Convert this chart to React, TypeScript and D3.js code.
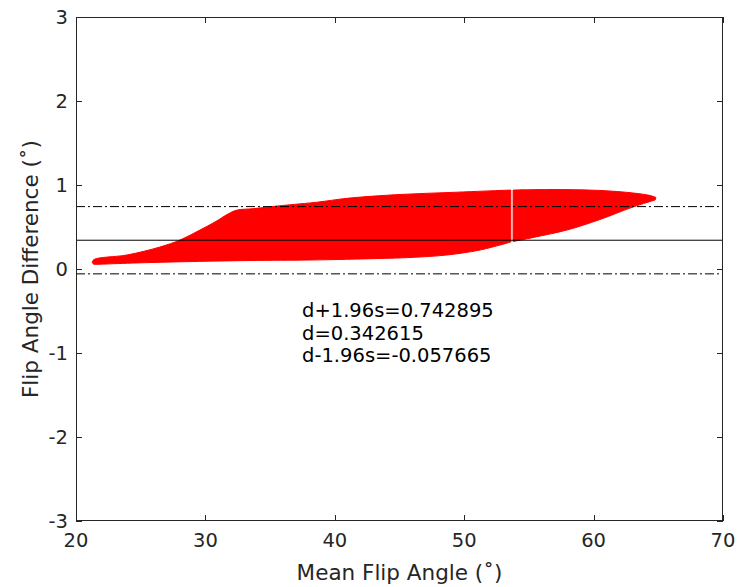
import React from 'react';
import * as d3 from 'd3';

// outline of the red point cloud (mean, difference)
// it is split in two pieces because of the thin gap near 53.7
const leftUpper: [number, number][] = [
  [21.24, 0.077], [21.39, 0.113], [23.94, 0.167], [26.49, 0.262], [28.04, 0.345],
  [29.58, 0.464], [30.74, 0.56], [31.75, 0.655], [32.4, 0.7], [33.68, 0.718],
  [35.22, 0.744], [36.77, 0.768], [38.62, 0.795], [41.17, 0.845], [45.04, 0.887],
  [48.9, 0.911], [52.77, 0.935], [53.6, 0.94],
];
const leftLower: [number, number][] = [
  [53.6, 0.321], [51.22, 0.226], [48.67, 0.167], [45.81, 0.137], [43.49, 0.125],
  [38.08, 0.107], [33.45, 0.101], [25.72, 0.077], [21.39, 0.054],
];
const rightUpper: [number, number][] = [
  [53.78, 0.94], [56.63, 0.946], [60.49, 0.935], [63.04, 0.905], [64.36, 0.875],
  [64.82, 0.851],
];
const rightLower: [number, number][] = [
  [64.75, 0.821], [63.04, 0.738], [60.49, 0.589], [57.94, 0.464], [55.32, 0.375],
  [53.78, 0.327],
];

const dUpper = 0.742895;
const dMean = 0.342615;
const dLower = -0.057665;
const annotation = [
  'd+1.96s=0.742895',
  'd=0.342615',
  'd-1.96s=-0.057665',
];

const xTicks = [20, 30, 40, 50, 60, 70];
const yTicks = [-3, -2, -1, 0, 1, 2, 3];

const W = 738;
const H = 587;
const left = 76, right = 723, top = 17, bottom = 521;

export default function App() {
  const x = d3.scaleLinear().domain([20, 70]).range([left, right]);
  const y = d3.scaleLinear().domain([-3, 3]).range([bottom, top]);
  const edge = d3.line<[number, number]>()
    .x(d => x(d[0])).y(d => y(d[1]))
    .curve(d3.curveCatmullRom.alpha(0.5));
  // smooth top and bottom edges, joined with straight segments
  const shape = (up: [number, number][], lo: [number, number][]) =>
    edge(up) + (edge(lo) || '').replace(/^M/, 'L') + 'Z';
  const axisColor = '#262626';
  const font = 'DejaVu Sans, sans-serif';

  return (
    <svg width={W} height={H} style={{ position: 'absolute', left: 0, top: 0 }} fontFamily={font}>
      <rect width={W} height={H} fill="#fff" />

      <g fill="#ff0000" stroke="#ff0000" strokeWidth={1} strokeLinejoin="round">
        <path d={shape(leftUpper, leftLower)} />
        <path d={shape(rightUpper, rightLower)} />
      </g>

      <line x1={left} x2={right} y1={y(dMean)} y2={y(dMean)} stroke="#000" strokeWidth={1} />
      {[dUpper, dLower].map(v => (
        <line key={v} x1={left} x2={right} y1={y(v)} y2={y(v)} stroke="#000"
          strokeWidth={1} strokeDasharray="9,3,2,3" />
      ))}

      {annotation.map((t, i) => (
        <text key={t} x={x(37.47)} y={317 + i * 22.5} fontSize={19.5} fill="#000">{t}</text>
      ))}

      {/* box and ticks */}
      <rect x={left + 0.5} y={top + 0.5} width={right - left - 1} height={bottom - top - 1}
        fill="none" stroke={axisColor} strokeWidth={1} />
      {xTicks.map(t => (
        <g key={'x' + t} stroke={axisColor}>
          <line x1={Math.round(x(t)) + 0.5} x2={Math.round(x(t)) + 0.5} y1={bottom} y2={bottom - 6} />
          <line x1={Math.round(x(t)) + 0.5} x2={Math.round(x(t)) + 0.5} y1={top} y2={top + 6} />
        </g>
      ))}
      {yTicks.map(t => (
        <g key={'y' + t} stroke={axisColor}>
          <line x1={left} x2={left + 6} y1={Math.round(y(t)) + 0.5} y2={Math.round(y(t)) + 0.5} />
          <line x1={right} x2={right - 6} y1={Math.round(y(t)) + 0.5} y2={Math.round(y(t)) + 0.5} />
        </g>
      ))}
      {xTicks.map(t => (
        <text key={'xl' + t} x={x(t)} y={547} textAnchor="middle" fontSize={19.5} fill={axisColor}>{t}</text>
      ))}
      {yTicks.map(t => (
        <text key={'yl' + t} x={68} y={y(t)} dy="0.36em" textAnchor="end" fontSize={19.5} fill={axisColor}>{t}</text>
      ))}

      <text x={(left + right) / 2} y={580} textAnchor="middle" fontSize={21.5} fill={axisColor}>
        Mean Flip Angle (˚)
      </text>
      <text transform={`translate(38,${(top + bottom) / 2}) rotate(-90)`} textAnchor="middle"
        fontSize={21.5} fill={axisColor}>
        Flip Angle Difference (˚)
      </text>
    </svg>
  );
}
